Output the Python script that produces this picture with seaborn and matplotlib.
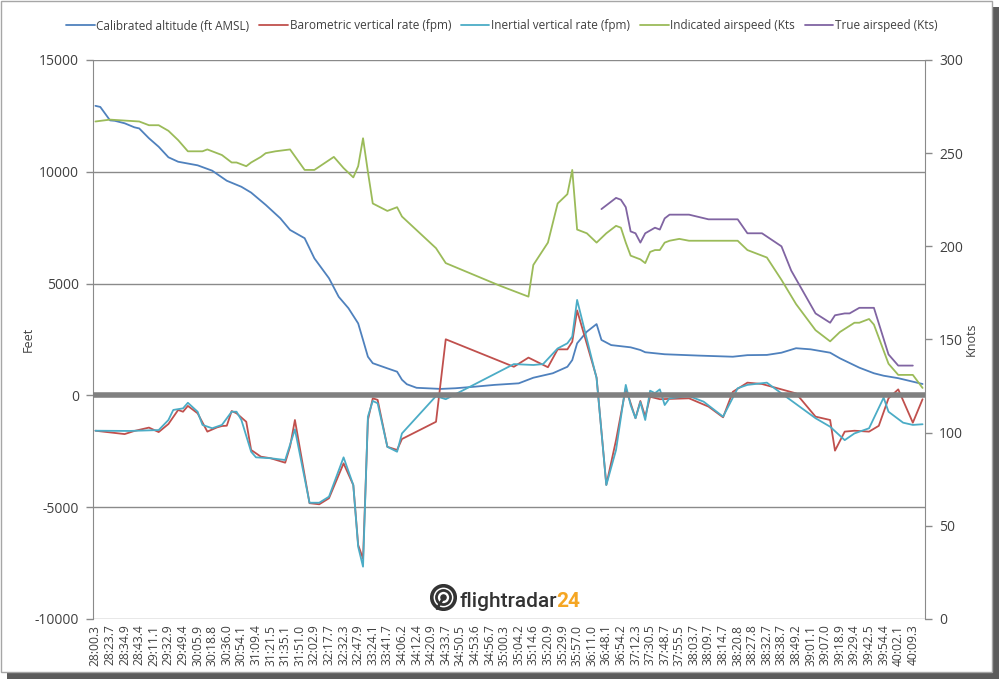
import matplotlib
matplotlib.use("Agg")
import matplotlib.pyplot as plt
import matplotlib.patches as mpatches
import seaborn as sns

# x axis: one label every third sample of the flight log
time_labels = ["28:00.3", "28:23.7", "28:34.9", "28:43.4", "29:11.1", "29:32.9", "29:49.4",
               "30:05.9", "30:18.8", "30:36.0", "30:54.1", "31:09.4", "31:21.5", "31:35.1",
               "31:51.0", "32:02.9", "32:17.7", "32:32.3", "32:47.9", "33:24.1", "33:41.7",
               "34:06.2", "34:12.4", "34:20.9", "34:33.7", "34:50.5", "34:53.6", "34:56.7",
               "35:00.3", "35:04.2", "35:14.6", "35:20.9", "35:29.9", "35:57.0", "36:11.0",
               "36:48.1", "36:54.2", "37:12.3", "37:30.5", "37:48.7", "37:55.5", "38:03.7",
               "38:09.7", "38:14.7", "38:20.8", "38:27.8", "38:32.7", "38:38.7", "38:49.2",
               "39:01.1", "39:07.0", "39:18.9", "39:29.4", "39:42.5", "39:54.4", "40:02.1",
               "40:09.3"]

# calibrated altitude (ft AMSL), sample index / value
alt_idx = [0, 1, 2, 3, 4, 6, 8, 9, 11, 13, 15, 17, 21, 24, 27, 30, 32, 35, 38, 40, 43, 45, 48,
           50, 52, 54, 55, 56, 57, 60, 62, 63, 64, 66, 71, 74, 78, 82, 87, 90, 94, 97, 98, 99,
           101, 103, 104, 106, 110, 112, 113, 117, 124, 131, 134, 138, 141, 144, 147, 151, 153,
           157, 160, 162, 165, 170]
alt_ft = [12950, 12900, 12600, 12300, 12280, 12170, 11990, 11940, 11500, 11120, 10650, 10450,
          10290, 10050, 9600, 9330, 9070, 8520, 7920, 7400, 7030, 6130, 5240, 4410, 3900, 3220,
          2480, 1730, 1440, 1210, 1060, 700, 500, 340, 290, 320, 390, 470, 540, 790, 990, 1280,
          1580, 2330, 2850, 3190, 2480, 2250, 2150, 2030, 1930, 1840, 1780, 1730, 1800, 1810,
          1910, 2110, 2060, 1910, 1660, 1240, 990, 880, 770, 510]

# barometric vertical rate (fpm)
baro_idx = [0, 6, 8, 11, 13, 15, 17, 18, 19, 21, 23, 25, 26, 27, 28, 29, 31, 32, 34, 36, 39, 40,
            41, 44, 46, 48, 51, 53, 54, 55, 56, 57, 58, 60, 62, 63, 70, 72, 86, 89, 93, 95, 97, 98,
            99, 103, 105, 107, 109, 110, 111, 112, 113, 114, 116, 122, 126, 129, 131, 134, 137,
            144, 146, 148, 151, 152, 154, 156, 159, 161, 163, 165, 168, 170]
baro_fpm = [-1580, -1730, -1590, -1440, -1640, -1280, -650, -730, -470, -800, -1620, -1430,
            -1370, -1355, -700, -800, -1180, -2440, -2740, -2810, -3010, -2290, -1100, -4820,
            -4870, -4600, -3040, -4010, -6690, -7300, -1100, -130, -200, -2300, -2440, -1950,
            -1180, 2510, 1280, 1690, 1260, 2060, 2060, 2400, 3800, 800, -4000, -2000, 320, -350,
            -1020, -250, -950, -60, -170, -130, -500, -980, 160, 570, 510, 90, -430, -950, -1100,
            -2470, -1620, -1580, -1620, -1360, -130, 270, -1220, -170]

# inertial vertical rate (fpm)
inert_idx = [0, 7, 13, 15, 16, 18, 19, 21, 22, 24, 26, 28, 29, 30, 32, 33, 36, 39, 41, 44, 46, 48,
             51, 53, 54, 55, 56, 57, 58, 60, 62, 63, 70, 72, 86, 90, 92, 95, 97, 98, 99, 103, 105,
             107, 109, 110, 111, 112, 113, 114, 115, 116, 117, 118, 122, 125, 129, 132, 134, 138,
             141, 148, 151, 154, 156, 159, 162, 163, 166, 168, 170]
inert_fpm = [-1580, -1590, -1550, -1100, -650, -580, -330, -730, -1320, -1470, -1320, -730, -730,
             -1100, -2520, -2770, -2810, -2890, -1520, -4800, -4800, -4530, -2770, -4010, -6770,
             -7660, -950, -250, -350, -2300, -2520, -1700, -30, -170, 1400, 1360, 1400, 2100,
             2330, 2630, 4270, 770, -4010, -2440, 470, -430, -1020, -300, -1100, 210, 100, 270,
             -430, -130, -30, -280, -950, 320, 470, 570, 90, -1020, -1400, -2000, -1700, -1470,
             -100, -730, -1220, -1320, -1290]

# indicated airspeed (kts)
ias_idx = [0, 3, 9, 11, 13, 15, 17, 19, 22, 23, 26, 28, 29, 31, 32, 34, 35, 37, 40, 43, 45, 49,
           51, 53, 54, 55, 56, 57, 60, 62, 63, 70, 72, 83, 89, 90, 93, 95, 97, 98, 99, 101, 103,
           105, 107, 108, 109, 110, 112, 113, 114, 115, 116, 117, 118, 120, 122, 132, 134, 138,
           141, 144, 148, 151, 153, 156, 157, 159, 160, 163, 165, 168, 170]
ias_kts = [267, 268, 267, 265, 265, 262, 257, 251, 251, 252, 249, 245, 245, 243, 245, 248, 250,
           251, 252, 241, 241, 248, 242, 237, 243, 258, 240, 223, 219, 221, 216, 199, 191, 179,
           173, 190, 202, 223, 228, 241, 209, 207, 202, 207, 211, 210, 202, 195, 193, 191, 197,
           198, 198, 202, 203, 204, 203, 203, 198, 194, 182, 169, 155, 149, 154, 159, 159, 161,
           158, 137, 131, 131, 124]

# true airspeed (kts)
tas_idx = [104, 107, 108, 109, 110, 111, 112, 113, 115, 116, 117, 118, 122, 126, 132, 134, 137,
           141, 143, 148, 151, 152, 154, 155, 157, 160, 163, 165, 168]
tas_kts = [220, 226, 225, 221, 208, 207, 202, 207, 210, 209, 215, 217, 217, 214.5, 214.5, 207,
           207, 200, 187, 164, 159, 163, 164, 164, 167, 167, 142, 136, 136]

BLUE, RED, CYAN, GREEN, PURPLE = "#4F81BD", "#C0504D", "#4BACC6", "#9BBB59", "#8064A2"
GRID = "#8a8a8a"
TXT = "#404040"

sns.set_style("white")
plt.rcParams["font.family"] = ["Open Sans", "DejaVu Sans"]
plt.rcParams["axes.unicode_minus"] = False

fig = plt.figure(figsize=(10, 6.81), dpi=100)
fig.patch.set_facecolor("white")

# chart frame with a drop shadow
fig.patches.append(mpatches.Rectangle((7 / 1000, 2 / 681), 992 / 1000, 672 / 681,
                                      transform=fig.transFigure, facecolor="#5c5c5c",
                                      edgecolor="none", zorder=-3))
fig.patches.append(mpatches.Rectangle((1 / 1000, 9 / 681), 991 / 1000, 671 / 681,
                                      transform=fig.transFigure, facecolor="white",
                                      edgecolor="#a6a6a6", lw=1, zorder=-2))

ax = fig.add_axes([0.093, 62 / 681, 0.832, 559 / 681])
ax.patch.set_alpha(0)
ax2 = ax.twinx()

lw = 1.3
sns.lineplot(x=alt_idx, y=alt_ft, ax=ax, color=BLUE, lw=lw, label="Calibrated altitude (ft AMSL)")
sns.lineplot(x=baro_idx, y=baro_fpm, ax=ax, color=RED, lw=lw, label="Barometric vertical rate (fpm)")
sns.lineplot(x=inert_idx, y=inert_fpm, ax=ax, color=CYAN, lw=lw, label="Inertial vertical rate (fpm)")
sns.lineplot(x=ias_idx, y=ias_kts, ax=ax2, color=GREEN, lw=lw, label="Indicated airspeed (Kts")
sns.lineplot(x=tas_idx, y=tas_kts, ax=ax2, color=PURPLE, lw=lw, label="True airspeed (Kts)")

h1, l1 = ax.get_legend_handles_labels()
h2, l2 = ax2.get_legend_handles_labels()
ax.get_legend().remove()
ax2.get_legend().remove()
fig.legend(h1 + h2, l1 + l2, loc="center", bbox_to_anchor=(0.502, 1 - 26 / 681), ncol=5,
           frameon=False, fontsize=8.5, handlelength=2.4, handletextpad=0.15,
           columnspacing=0.85, labelcolor=TXT)

ax.set_xlim(-0.5, 170.5)
ax.set_xticks(range(0, 171, 3))
ax.set_xticklabels(time_labels)
ax.tick_params(axis="x", length=0, pad=4, labelsize=8.7, labelcolor=TXT, labelrotation=90)

ax.set_ylim(-10000, 15000)
ax.set_yticks(range(-10000, 15001, 5000))
ax.tick_params(axis="y", left=True, length=5, width=1, color=GRID, pad=5,
               labelsize=10, labelcolor=TXT)
ax.yaxis.grid(True, color=GRID, lw=1)
ax.set_axisbelow(True)
ax.axhline(0, color="#808080", lw=4, zorder=5)

ax2.set_ylim(0, 300)
ax2.set_yticks(range(0, 301, 50))
ax2.tick_params(axis="y", right=True, length=5, width=1, color=GRID, pad=5,
                labelsize=10, labelcolor=TXT)

for a in (ax, ax2):
    for side in ("top", "bottom"):
        a.spines[side].set_visible(False)
ax.spines["left"].set_color(GRID)
ax.spines["right"].set_visible(False)
ax2.spines["left"].set_visible(False)
ax2.spines["right"].set_color(GRID)

ax.set_ylabel("Feet", fontsize=9, color=TXT)
ax.yaxis.set_label_coords(-(93 - 35) / 832, 0.5)
ax2.set_ylabel("Knots", fontsize=9, color=TXT)
ax2.yaxis.set_label_coords((965 - 93) / 832, 0.5)

# flightradar24 watermark
iax = fig.add_axes([430 / 1000, 1 - 611 / 681, 27 / 1000, 27 / 681])
iax.set_xlim(-1.15, 1.15)
iax.set_ylim(-1.15, 1.15)
iax.set_aspect("equal")
iax.axis("off")
iax.add_patch(mpatches.Circle((0, 0), 1.0, fill=False, lw=2.6, color="#333333"))
iax.add_patch(mpatches.Circle((0, 0), 0.6, fill=False, lw=2.0, color="#333333"))
iax.add_patch(mpatches.Circle((0, 0), 0.22, color="#333333"))
iax.plot([0, -0.55], [0, -0.95], color="#333333", lw=2.0)

wm = fig.text(459 / 1000, 1 - 607 / 681, "flightradar", fontsize=15, color="#333333",
              family=["Roboto", "DejaVu Sans"], fontweight="medium", va="baseline")
fig.add_artist(plt.Annotation("24", xy=(1, 0), xycoords=wm, va="bottom", ha="left",
                              fontsize=15, color="#F5A623", family=["Roboto", "DejaVu Sans"],
                              fontweight="bold"))

fig.savefig("out.png", dpi=100)
